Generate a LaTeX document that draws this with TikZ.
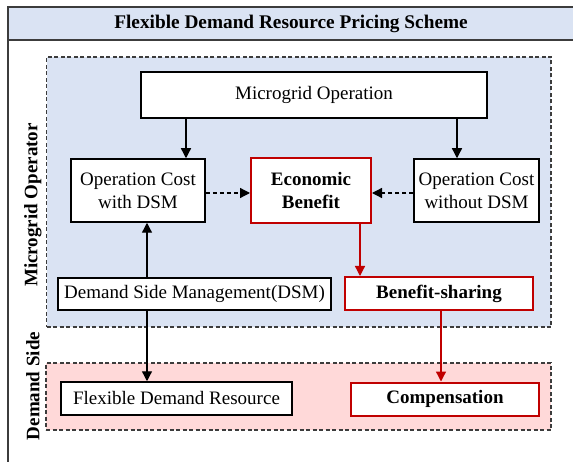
\documentclass[tikz,border=0pt]{standalone}
\usepackage{fontspec}
\setmainfont{Liberation Serif}
\usetikzlibrary{arrows.meta}
\definecolor{bluebg}{HTML}{DAE3F3}
\definecolor{pinkbg}{HTML}{FFD9D9}
\definecolor{redline}{HTML}{C00000}
\definecolor{frameline}{HTML}{3C3C3C}
\begin{document}
\begin{tikzpicture}[x=1pt,y=-1pt,
  txt/.style={font=\fontsize{19}{23}\selectfont},
  box/.style={draw=black, line width=1.5pt, fill=white, align=center, inner sep=0pt, txt},
  redbox/.style={box, draw=redline, line width=2pt, font=\fontsize{19}{23}\selectfont\bfseries},
  arr/.style={-{Triangle[length=10pt,width=10pt]}, line width=1.3pt},
  darr/.style={arr, dash pattern=on 4pt off 3pt},
  rarr/.style={arr, draw=redline, fill=redline},
  region/.style={draw=frameline, line width=1.1pt, dash pattern=on 4pt off 2.5pt, inner sep=0pt},
  framel/.style={draw=frameline, line width=2.7pt},
  sidelabel/.style={rotate=90, font=\fontsize{19}{23}\selectfont\bfseries}
]
\useasboundingbox (0,0) rectangle (573,462);
\clip (0,0) rectangle (573,462);
% frame and title band
\fill[bluebg] (8,7) rectangle (600,40);
\draw[framel] (600,7) -- (8,7) -- (8,480);
\draw[framel] (8,40) -- (600,40);
\node[txt, font=\fontsize{19.3}{23}\selectfont\bfseries] (title) at (291,24) {Flexible Demand Resource Pricing Scheme};
% regions
\node[region, fill=bluebg, minimum width=504.5pt, minimum height=270pt] (mgr) at (298.75,192) {};
\node[region, fill=pinkbg, minimum width=505pt, minimum height=67pt] (dsr) at (298.5,396.5) {};
% side labels
\node[sidelabel] (mglabel) at (33,205) {Microgrid Operator};
\node[sidelabel] (dslabel) at (33,386) {Demand Side};
% boxes
\node[box, minimum width=346pt, minimum height=46pt] (mo) at (314,95) {Microgrid Operation};
\node[box, minimum width=134pt, minimum height=63pt] (ocw) at (138,190.5) {Operation Cost\\with DSM};
\node[redbox, minimum width=120pt, minimum height=65pt] (eb) at (311,190.5) {Economic\\Benefit};
\node[box, minimum width=125pt, minimum height=63pt] (ocwo) at (476.5,190.5) {Operation Cost\\without DSM};
\node[box, minimum width=273pt, minimum height=32pt] (dsm) at (194.5,294) {Demand Side Management(DSM)};
\node[redbox, minimum width=188pt, minimum height=33pt] (bs) at (439,293.5) {Benefit-sharing};
\node[box, minimum width=231pt, minimum height=33pt] (fdr) at (176.5,398.5) {Flexible Demand Resource};
\node[redbox, minimum width=188pt, minimum height=33pt] (comp) at (445,399) {Compensation};
% guide coordinates
\coordinate (xa) at (186,0);
\coordinate (xb) at (457,0);
\coordinate (xc) at (147,0);
\coordinate (xd) at (360,0);
\coordinate (xe) at (441,0);
\coordinate (ya) at (0,193);
% connectors
\draw[arr] (mo.south -| xa) -- (ocw.north -| xa);
\draw[arr] (mo.south -| xb) -- (ocwo.north -| xb);
\draw[darr] (ocw.east |- ya) -- (eb.west |- ya);
\draw[darr] (ocwo.west |- ya) -- (eb.east |- ya);
\draw[arr] (dsm.north -| xc) -- (ocw.south -| xc);
\draw[arr] (dsm.south -| xc) -- (fdr.north -| xc);
\draw[rarr] (eb.south -| xd) -- (bs.north -| xd);
\draw[rarr] (bs.south -| xe) -- (comp.north -| xe);
\end{tikzpicture}
\end{document}
